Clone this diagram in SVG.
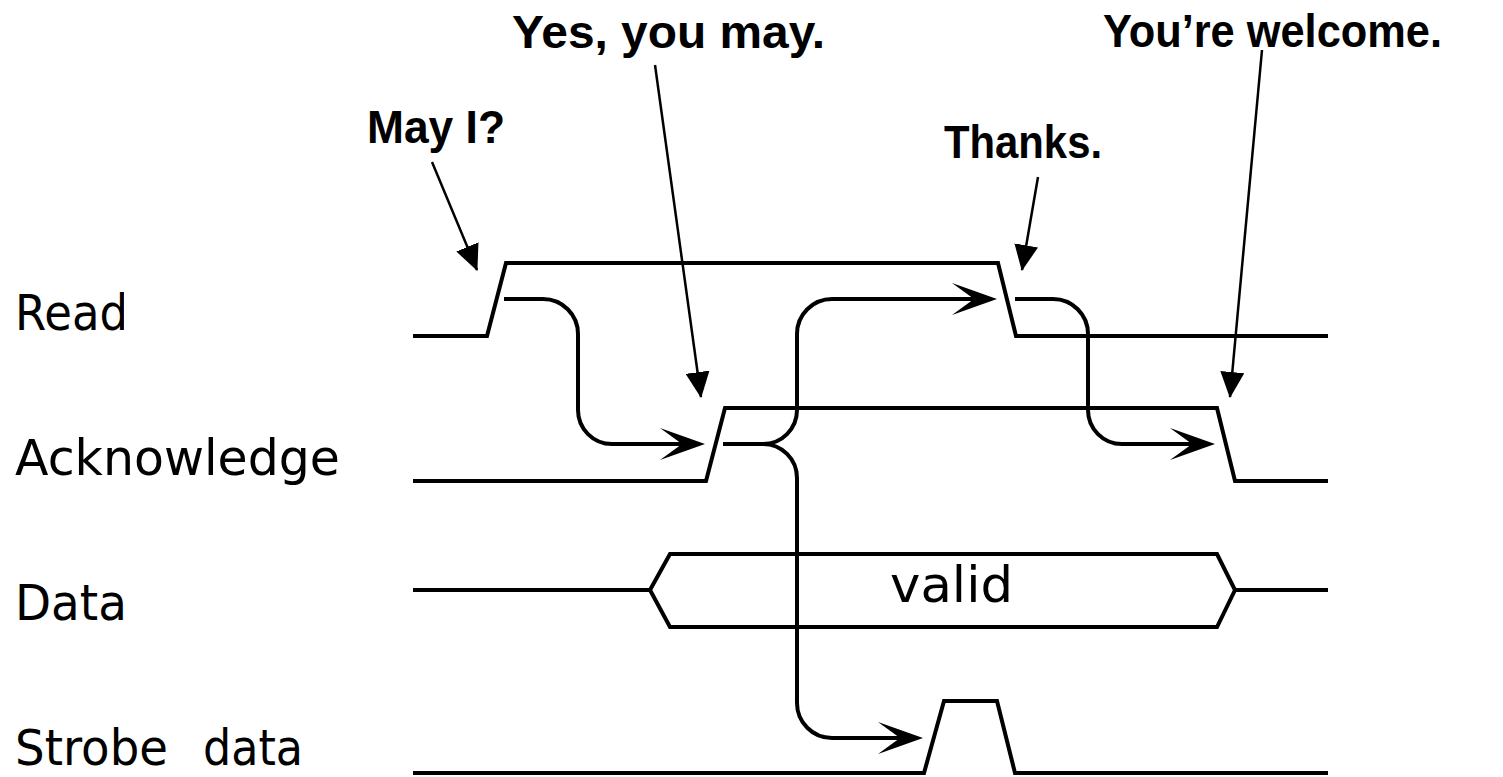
<svg xmlns="http://www.w3.org/2000/svg" width="1503" height="777" viewBox="0 0 1503 777">
<style>
.sig{fill:none;stroke:#000;stroke-width:4;stroke-linejoin:miter}
.con{fill:none;stroke:#000;stroke-width:4}
.ptr{fill:none;stroke:#000;stroke-width:2.5}
.lbl{font-family:"DejaVu Sans","Liberation Sans",sans-serif;font-size:49px;fill:#000}
.say{font-family:"Liberation Sans",Arial,sans-serif;font-weight:bold;font-size:47px;fill:#000}
</style>
<defs>
<marker id="tri" markerUnits="userSpaceOnUse" viewBox="0 0 26 24" refX="25" refY="12" markerWidth="26" markerHeight="24" orient="auto">
<path d="M0,0 L26,12 L0,24 z" fill="#000"/>
</marker>
<marker id="barb" markerUnits="userSpaceOnUse" viewBox="0 0 45 32" refX="35" refY="16" markerWidth="45" markerHeight="32" orient="auto">
<path d="M0,0 L45,16 L0,32 L22,16 z" fill="#000"/>
</marker>
<clipPath id="readclip"><rect x="0" y="280" width="124" height="70"/></clipPath>
</defs>

<g id="labels">
<g id="label-read"><text class="lbl" x="15" y="330" textLength="113" lengthAdjust="spacingAndGlyphs" clip-path="url(#readclip)">Read</text></g>
<g id="label-ack"><text class="lbl" x="15" y="475" textLength="325" lengthAdjust="spacingAndGlyphs">Acknowledge</text></g>
<g id="label-data"><text class="lbl" x="15" y="620" textLength="112" lengthAdjust="spacingAndGlyphs">Data</text></g>
<g id="label-strobe"><text class="lbl" x="15" y="765" textLength="153" lengthAdjust="spacingAndGlyphs">Strobe</text><text class="lbl" x="203" y="765" textLength="100" lengthAdjust="spacingAndGlyphs">data</text></g>
</g>

<g id="signal-read"><path class="sig" d="M413,336 L487,336 L506,263 L998,263 L1016,336 L1328,336"/></g>
<g id="signal-ack"><path class="sig" d="M413,481 L706,481 L725,408 L1217,408 L1235,481 L1328,481"/></g>
<g id="signal-data">
<path class="sig" d="M413,590 L650,590 M1235,590 L1328,590"/>
<path class="sig" d="M650,590 L670,554 L1217,554 L1235,590 L1217,627 L670,627 Z"/>
<text class="lbl" x="890" y="602" textLength="123" lengthAdjust="spacingAndGlyphs">valid</text>
</g>
<g id="signal-strobe"><path class="sig" d="M413,773 L924,773 L944,701 L997,701 L1015,773 L1328,773"/></g>

<g id="speech">
<g id="say-mayi"><text class="say" x="367" y="143" textLength="138" lengthAdjust="spacingAndGlyphs">May I?</text></g>
<g id="say-yes"><text class="say" x="512" y="48" textLength="313" lengthAdjust="spacingAndGlyphs">Yes, you may.</text></g>
<g id="say-thanks"><text class="say" x="944" y="158" textLength="158" lengthAdjust="spacingAndGlyphs">Thanks.</text></g>
<g id="say-welcome"><text class="say" x="1103" y="47" textLength="339" lengthAdjust="spacingAndGlyphs">You’re welcome.</text></g>
</g>

<g id="connectors">
<path class="ptr" marker-end="url(#tri)" d="M432,162 L477,270"/>
<path class="ptr" marker-end="url(#tri)" d="M655,65 L701,397"/>
<path class="ptr" marker-end="url(#tri)" d="M1038,177 L1022,270"/>
<path class="ptr" marker-end="url(#tri)" d="M1262,50 L1230,397"/>

<path class="con" marker-end="url(#barb)" d="M504,299 L543,299 A35,35 0 0 1 578,334 L578,410 A34,34 0 0 0 612,444 L695,444"/>
<path class="con" d="M723,444 L763,444"/>
<path class="con" marker-end="url(#barb)" d="M763,444 A34,34 0 0 0 797,410 L797,334 A35,35 0 0 1 832,299 L987,299"/>
<path class="con" marker-end="url(#barb)" d="M763,444 A34,34 0 0 1 797,478 L797,703 A35,35 0 0 0 832,738 L913,738"/>
<path class="con" marker-end="url(#barb)" d="M1015,299 L1053,299 A35,35 0 0 1 1088,334 L1088,410 A34,34 0 0 0 1122,444 L1205,444"/>
</g>
</svg>
